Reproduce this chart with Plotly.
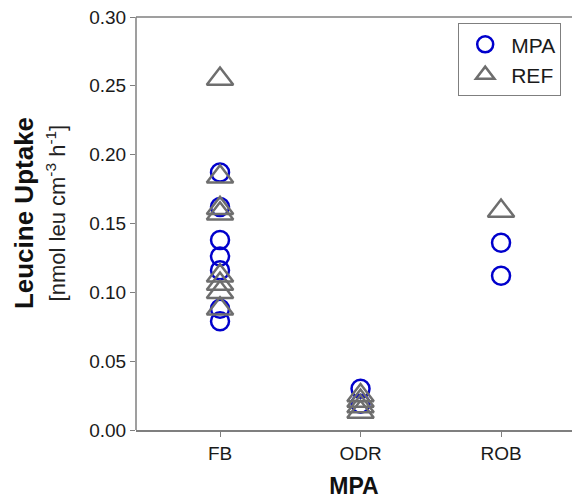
import plotly.graph_objects as go

categories = ["FB", "ODR", "ROB"]

mpa_site = ["FB"] * 7 + ["ODR"] * 2 + ["ROB"] * 2
mpa_values = [0.187, 0.162, 0.138, 0.126, 0.116, 0.088, 0.079,
              0.030, 0.019,
              0.136, 0.112]

ref_site = ["FB"] * 8 + ["ODR"] * 4 + ["ROB"] * 1
ref_values = [0.255, 0.184, 0.161, 0.157, 0.112, 0.106, 0.100, 0.088,
              0.025, 0.021, 0.017, 0.013,
              0.159]

y_ticks = [0.00, 0.05, 0.10, 0.15, 0.20, 0.25, 0.30]

FONT = "Liberation Sans, Arial, sans-serif"
AXIS_COLOR = "#7f7f7f"

fig = go.Figure()
fig.add_trace(go.Scatter(
    x=mpa_site, y=mpa_values, mode="markers", name="MPA",
    marker=dict(symbol="circle-open", size=18, color="#0000cc",
                line=dict(width=2.5, color="#0000cc")),
))
fig.add_trace(go.Scatter(
    x=ref_site, y=ref_values, mode="markers", name="REF",
    marker=dict(symbol="triangle-up-open", size=23, color="#6e6e6e",
                line=dict(width=2.5, color="#6e6e6e")),
))

fig.update_layout(
    width=572, height=499,
    margin=dict(l=136, r=0, t=17, b=69),
    plot_bgcolor="white", paper_bgcolor="white",
    font=dict(family=FONT, size=19, color="#1a1a1a"),
    showlegend=True,
    legend=dict(x=0.739, y=0.985, xanchor="left", yanchor="top",
                bordercolor="#7f7f7f", borderwidth=1, bgcolor="white",
                font=dict(size=21, family=FONT, color="#1a1a1a"),
                itemsizing="trace", tracegroupgap=0, itemwidth=42),
    shapes=[
        dict(type="line", xref="paper", yref="paper", x0=0, x1=1, y0=1, y1=1,
             line=dict(color=AXIS_COLOR, width=1.5)),
        dict(type="line", xref="paper", yref="paper", x0=0, x1=0, y0=0, y1=1,
             line=dict(color=AXIS_COLOR, width=1.5)),
    ],
)
fig.update_xaxes(
    type="category", categoryorder="array", categoryarray=categories,
    range=[-0.598, 2.505],
    showline=True, linecolor=AXIS_COLOR, linewidth=1.5, mirror=False,
    ticks="outside", ticklen=5, tickcolor=AXIS_COLOR, tickwidth=1,
    showgrid=False, zeroline=False,
    tickfont=dict(size=19, family=FONT, color="#1a1a1a"),
    title=dict(text="<b>MPA</b>", font=dict(size=23, family=FONT, color="#111111"),
               standoff=18),
)
fig.update_yaxes(
    range=[0, 0.3], tickvals=y_ticks, tickformat=".2f",
    showline=False, mirror=False,
    ticks="outside", ticklen=5, tickcolor=AXIS_COLOR, tickwidth=1,
    showgrid=False, zeroline=False,
    tickfont=dict(size=19, family=FONT, color="#1a1a1a"),
)
fig.add_annotation(
    text="<b>Leucine Uptake</b>", textangle=-90, xref="paper", yref="paper",
    x=-0.257, y=0.525, xanchor="center", yanchor="middle", showarrow=False,
    font=dict(size=26, family=FONT, color="#111111"),
)
fig.add_annotation(
    text="[nmol leu cm<sup>-3</sup> h<sup>-1</sup>]", textangle=-90,
    xref="paper", yref="paper",
    x=-0.183, y=0.525, xanchor="center", yanchor="middle", showarrow=False,
    font=dict(size=22, family=FONT, color="#222222"),
)

fig.write_html("out.html")
